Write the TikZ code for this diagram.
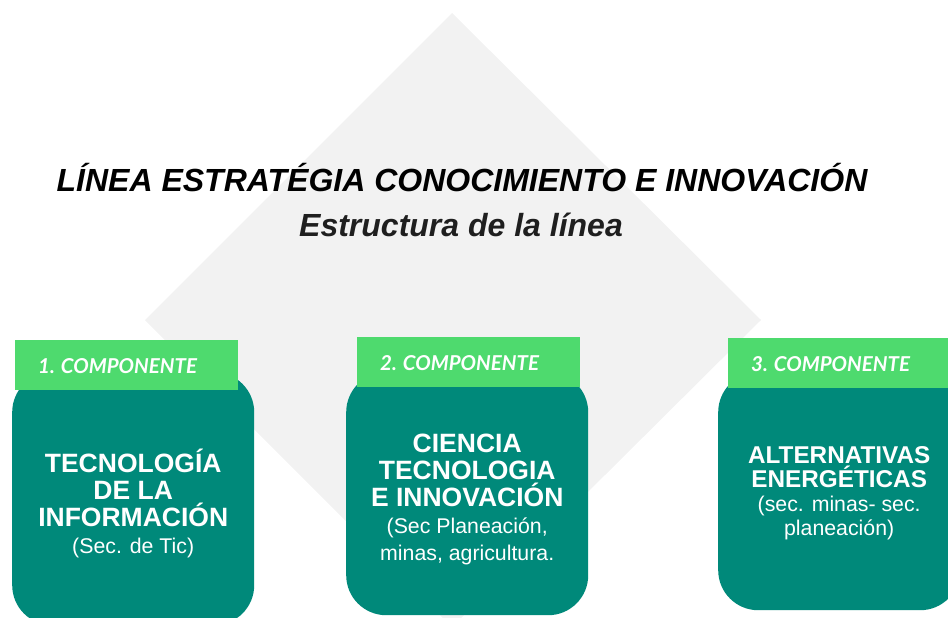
\documentclass[tikz,border=0pt]{standalone}
\usepackage{fontspec}
\setmainfont{Liberation Sans}
\newfontfamily\latofont{Lato}
\usetikzlibrary{positioning}
\definecolor{diamondgray}{RGB}{242,242,242}
\definecolor{compgreen}{RGB}{78,218,110}
\definecolor{compteal}{RGB}{0,137,122}
\newcommand{\bigtxt}{\bfseries\fontsize{26.5}{27}\selectfont}
\newcommand{\smalltxt}{\normalfont\fontsize{21.3}{22}\selectfont}
\tikzset{
  cbox/.style={rectangle,rounded corners=40pt,fill=compteal,anchor=north west,
    minimum width=242pt,inner sep=0pt},
  ctext/.style={text=white,align=center,inner sep=0pt,font=\bigtxt},
  chead/.style={rectangle,fill=compgreen,anchor=north west,
    minimum width=223pt,minimum height=50pt,inner sep=0pt},
  clabel/.style={anchor=base west,text=white,inner sep=0pt,
    font=\latofont\bfseries\itshape\fontsize{20.5}{22}\selectfont},
}

\begin{document}
\begin{tikzpicture}[x=1pt,y=-1pt]
\useasboundingbox (0,0) rectangle (948,618);
% grey diamond behind everything
\fill[diamondgray] (452,13) -- (761,320) -- (452,627) -- (145,320) -- cycle;
% titles
\node[anchor=base,inner sep=0pt,font=\bfseries\itshape\fontsize{32}{34}\selectfont]
  (title) at (462,191) {LÍNEA ESTRATÉGIA CONOCIMIENTO E INNOVACIÓN};
\node[anchor=base,inner sep=0pt,text=black!88,font=\bfseries\itshape\fontsize{32}{34}\selectfont]
  (subtitle) at (461,236) {Estructura de la línea};
% component boxes
\node[cbox,minimum height=253pt] (box1) at (12,372) {};
\node[cbox,minimum height=243pt] (box2) at (346,372) {};
\node[cbox,minimum height=238pt] (box3) at (718,372) {};
\node[ctext] (txt1) at ([yshift=-5pt]box1.center)
  {TECNOLOGÍA\\DE LA\\INFORMACIÓN\\\smalltxt (Sec. de Tic)};
\node[ctext] (txt2) at ([yshift=-6pt]box2.center)
  {CIENCIA\\TECNOLOGIA\\E INNOVACIÓN\\\smalltxt (Sec Planeación,\\\smalltxt minas, agricultura.};
\node[ctext,font=\bfseries\fontsize{24.3}{24}\selectfont] (txt3) at ([yshift=-2pt]box3.center)
  {ALTERNATIVAS\\ENERGÉTICAS\\\smalltxt (sec. minas- sec.\\\smalltxt planeación)};
% green headers
\foreach \i/\x/\y in {1/15/340,2/357/337,3/728/338}{
  \node[chead] (head\i) at (\x,\y) {};
  \node[clabel] (lab\i) at (\x+23,\y+33) {\i. COMPONENTE};
}
\end{tikzpicture}
\end{document}
